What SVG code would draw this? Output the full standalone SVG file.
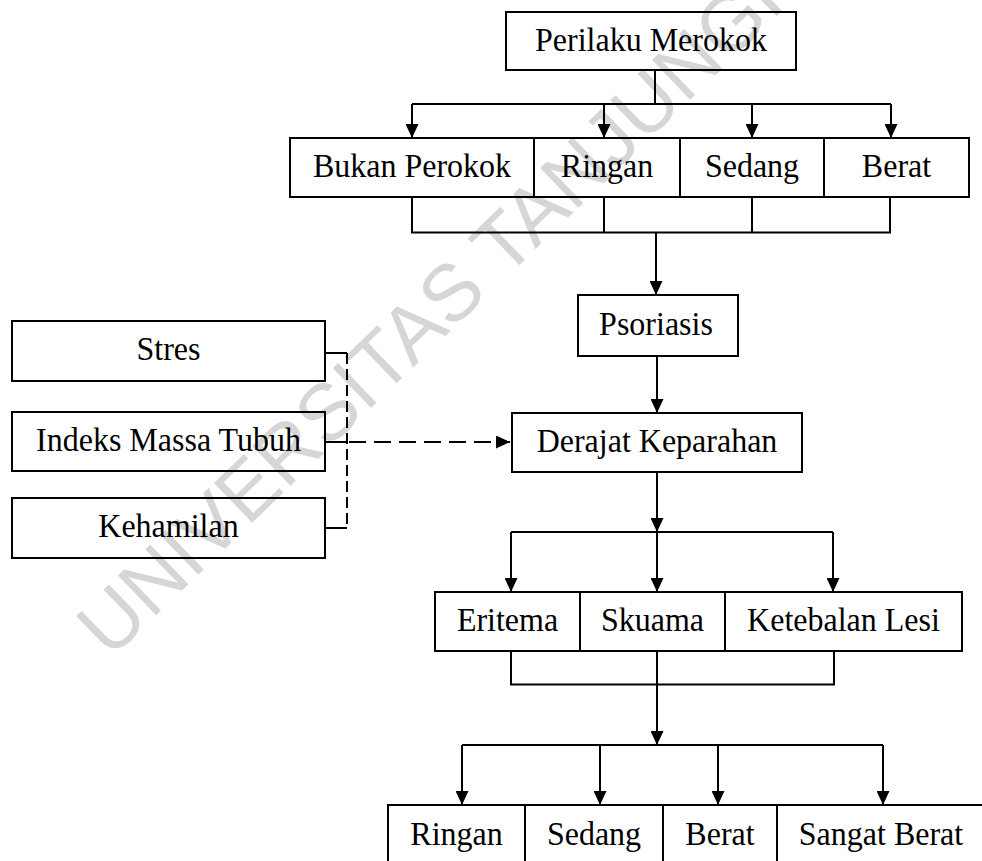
<svg xmlns="http://www.w3.org/2000/svg" width="982" height="861" viewBox="0 0 982 861">
<style>
.box{fill:none;stroke:#000;stroke-width:2}
.t{font-family:"Liberation Serif","Times New Roman",serif;font-size:32px;text-anchor:middle;fill:#000}
.ln{fill:none;stroke:#000;stroke-width:2}
.ar{fill:none;stroke:#000;stroke-width:2;marker-end:url(#ah)}
.dv{fill:none;stroke:#000;stroke-width:2;stroke-dasharray:11 5}
.dh{fill:none;stroke:#000;stroke-width:2;stroke-dasharray:17 8}
.wm{font-family:"Liberation Sans",Arial,sans-serif;font-size:80px;fill:#d6d6d6}
</style>
<defs>
<marker id="ah" viewBox="0 0 14 13" refX="14" refY="6.5" markerWidth="14" markerHeight="13" markerUnits="userSpaceOnUse" orient="auto"><path d="M0,0 L14,6.5 L0,13 z" fill="#000"/></marker>
</defs>
<rect width="982" height="861" fill="#fff"/>
<text class="wm" transform="translate(110 660) rotate(-44)">UNIVERSITAS TANJUNGPURA</text>

<g id="connectors">
<line class="ln" x1="655" y1="70" x2="655" y2="104"/>
<line class="ln" x1="412" y1="104" x2="891" y2="104"/>
<line class="ar" x1="412" y1="104" x2="412" y2="138"/>
<line class="ar" x1="604" y1="104" x2="604" y2="138"/>
<line class="ar" x1="752" y1="104" x2="752" y2="138"/>
<line class="ar" x1="891" y1="104" x2="891" y2="138"/>
<path class="ln" d="M412,197 V232.5 H890 V197 M604,197 V232.5 M752,197 V232.5"/>
<line class="ar" x1="656" y1="232.5" x2="656" y2="295"/>
<line class="ar" x1="657" y1="356" x2="657" y2="413"/>
<line class="ar" x1="657" y1="472" x2="657" y2="532"/>
<line class="ln" x1="511" y1="532" x2="833" y2="532"/>
<line class="ar" x1="511" y1="532" x2="511" y2="592"/>
<line class="ar" x1="657" y1="532" x2="657" y2="592"/>
<line class="ar" x1="833" y1="532" x2="833" y2="592"/>
<path class="ln" d="M511,651 V684.5 H834 V651 M657,651 V684.5"/>
<line class="ar" x1="657" y1="684.5" x2="657" y2="745"/>
<line class="ln" x1="462" y1="745" x2="883" y2="745"/>
<line class="ar" x1="462" y1="745" x2="462" y2="805"/>
<line class="ar" x1="600" y1="745" x2="600" y2="805"/>
<line class="ar" x1="718" y1="745" x2="718" y2="805"/>
<line class="ar" x1="883" y1="745" x2="883" y2="805"/>
<line class="ln" x1="325" y1="353" x2="347" y2="353"/>
<line class="ln" x1="325" y1="442" x2="347" y2="442"/>
<line class="ln" x1="325" y1="528" x2="347" y2="528"/>
<line class="dv" x1="347" y1="353" x2="347" y2="529"/>
<line class="dh" x1="349" y1="442" x2="510" y2="442" marker-end="url(#ah)"/>
</g>

<g id="perilaku-merokok"><rect class="box" x="506" y="12" width="290" height="58"/><text class="t" transform="translate(651 51) scale(1 1.08)">Perilaku Merokok</text></g>
<g id="bukan-perokok"><rect class="box" x="290" y="138" width="244" height="59"/><text class="t" transform="translate(412 177) scale(1 1.08)">Bukan Perokok</text></g>
<g id="merokok-ringan"><rect class="box" x="534" y="138" width="146" height="59"/><text class="t" transform="translate(607 177) scale(1 1.08)">Ringan</text></g>
<g id="merokok-sedang"><rect class="box" x="680" y="138" width="144" height="59"/><text class="t" transform="translate(752 177) scale(1 1.08)">Sedang</text></g>
<g id="merokok-berat"><rect class="box" x="824" y="138" width="145" height="59"/><text class="t" transform="translate(896.5 177) scale(1 1.08)">Berat</text></g>
<g id="psoriasis"><rect class="box" x="578" y="295" width="160" height="61"/><text class="t" transform="translate(656 335) scale(1 1.08)">Psoriasis</text></g>
<g id="derajat-keparahan"><rect class="box" x="512" y="413" width="290" height="59"/><text class="t" transform="translate(657 452) scale(1 1.08)">Derajat Keparahan</text></g>
<g id="stres"><rect class="box" x="12" y="321" width="313" height="60"/><text class="t" transform="translate(168.5 360) scale(1 1.08)">Stres</text></g>
<g id="indeks-massa-tubuh"><rect class="box" x="12" y="412" width="313" height="59"/><text class="t" transform="translate(168.5 451) scale(1 1.08)">Indeks Massa Tubuh</text></g>
<g id="kehamilan"><rect class="box" x="12" y="498" width="313" height="60"/><text class="t" transform="translate(168.5 537) scale(1 1.08)">Kehamilan</text></g>
<g id="eritema"><rect class="box" x="435" y="592" width="145" height="59"/><text class="t" transform="translate(507.5 631) scale(1 1.08)">Eritema</text></g>
<g id="skuama"><rect class="box" x="580" y="592" width="145" height="59"/><text class="t" transform="translate(652.5 631) scale(1 1.08)">Skuama</text></g>
<g id="ketebalan-lesi"><rect class="box" x="725" y="592" width="237" height="59"/><text class="t" transform="translate(843.5 631) scale(1 1.08)">Ketebalan Lesi</text></g>
<g id="derajat-ringan"><rect class="box" x="388" y="805" width="137" height="60"/><text class="t" transform="translate(456.5 845) scale(1 1.08)">Ringan</text></g>
<g id="derajat-sedang"><rect class="box" x="525" y="805" width="138" height="60"/><text class="t" transform="translate(594 845) scale(1 1.08)">Sedang</text></g>
<g id="derajat-berat"><rect class="box" x="663" y="805" width="114" height="60"/><text class="t" transform="translate(720 845) scale(1 1.08)">Berat</text></g>
<g id="sangat-berat"><rect class="box" x="777" y="805" width="208" height="60"/><text class="t" transform="translate(881 845) scale(1 1.08)">Sangat Berat</text></g>
</svg>
